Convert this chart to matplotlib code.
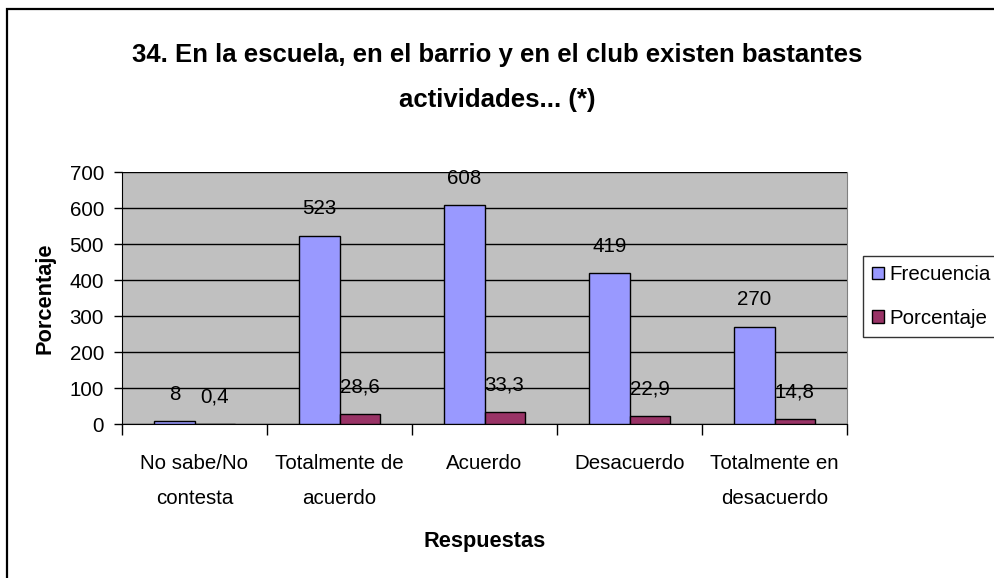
import matplotlib
matplotlib.use("Agg")
import matplotlib.pyplot as plt
import numpy as np
from matplotlib.patches import Rectangle

categories = ["No sabe/No\ncontesta", "Totalmente de\nacuerdo", "Acuerdo", "Desacuerdo", "Totalmente en\ndesacuerdo"]
frecuencia = [8, 523, 608, 419, 270]
porcentaje = [0.4, 28.6, 33.3, 22.9, 14.8]
yticks = [0, 100, 200, 300, 400, 500, 600, 700]

def fmt(v):
    if float(v).is_integer():
        return str(int(v))
    return ("%.1f" % v).replace(".", ",")

plt.rcParams['font.family'] = ['Liberation Sans', 'DejaVu Sans']
FS = 14.8

fig = plt.figure(figsize=(9.94, 5.78), dpi=100)
fig.patches.append(Rectangle((7/994, -0.1), 1.2, (1 - 9/578) + 0.1, transform=fig.transFigure,
                             fill=False, edgecolor='black', linewidth=1.6, zorder=0))

ax = fig.add_axes([122/994, 1 - 424/578, 725/994, 252/578])
ax.set_facecolor('#C0C0C0')

x = np.arange(len(categories))
w = 0.276
b1 = ax.bar(x - w/2, frecuencia, w, color='#9999FF', edgecolor='black', linewidth=1.0, label='Frecuencia', zorder=3)
b2 = ax.bar(x + w/2, porcentaje, w, color='#993366', edgecolor='black', linewidth=1.0, label='Porcentaje', zorder=3)

for bars, vals in ((b1, frecuencia), (b2, porcentaje)):
    for r, v in zip(bars, vals):
        ax.annotate(fmt(v), (r.get_x() + r.get_width()/2, r.get_height()),
                    xytext=(0, 12.5), textcoords='offset points', ha='center', va='bottom',
                    fontsize=FS, zorder=5)

ax.set_xlim(-0.5, len(categories) - 0.5)
ax.set_ylim(0, 700)
ax.set_yticks(yticks)
ax.set_yticklabels([str(t) for t in yticks], fontsize=FS)
ax.yaxis.grid(True, color='black', linewidth=1.0, zorder=1)
ax.set_axisbelow(True)

ax.set_xticks(x)
ax.set_xticklabels(categories, fontsize=FS, linespacing=2.1)
ax.tick_params(axis='x', length=0, pad=21.5)
ax.set_xticks(np.arange(-0.5, len(categories)), minor=True)
ax.tick_params(axis='x', which='minor', length=8, width=1)
ax.tick_params(axis='y', length=6, width=1, pad=7)

ax.spines['top'].set_visible(False)
ax.spines['right'].set_color('#808080')
ax.spines['left'].set_color('black')
ax.spines['bottom'].set_color('black')

ax.set_ylabel('Porcentaje', fontsize=15.7, fontweight='bold', labelpad=10)
ax.set_xlabel('Respuestas', fontsize=15.7, fontweight='bold', labelpad=16.5)

fig.text(497/994, 1 - 55/578, "34. En la escuela, en el barrio y en el club existen bastantes",
         ha='center', va='center', fontsize=18.5, fontweight='bold')
fig.text(497/994, 1 - 100/578, "actividades... (*)",
         ha='center', va='center', fontsize=18.5, fontweight='bold')

leg = fig.legend(handles=[b1, b2], loc='upper left', bbox_to_anchor=(863/994, 1 - 256/578),
                 prop={'size': FS}, frameon=True, fancybox=False, edgecolor='black',
                 handlelength=0.55, handleheight=0.55, handletextpad=0.3, labelspacing=1.2,
                 borderpad=0.45, borderaxespad=0)
leg.get_frame().set_linewidth(1.0)

fig.savefig('out.png', dpi=100)
